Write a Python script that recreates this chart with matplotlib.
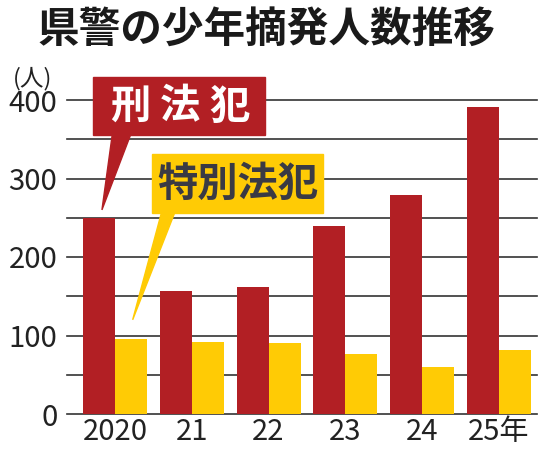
import numpy as np
import matplotlib
matplotlib.use("Agg")
import matplotlib.pyplot as plt
from matplotlib.patches import Rectangle, Polygon

plt.rcParams['font.family'] = ['Noto Sans CJK JP', 'DejaVu Sans']

# === Daten ===
years = ["2020", "21", "22", "23", "24", "25年"]
keiho = [250, 157, 162, 240, 279, 391]      # 刑法犯
tokubetsu = [96, 92, 90, 77, 60, 82]        # 特別法犯

RED = "#b21f24"
YELLOW = "#ffcb05"
GRID = "#333333"

W, H = 545, 449
fig = plt.figure(figsize=(W / 100, H / 100), dpi=100)
ax = fig.add_axes([67 / W, (H - 414) / H, 470 / W, 314 / H])

x = np.arange(len(years))
w = 0.417
ax.bar(x - w / 2, keiho, w, color=RED, zorder=3)
ax.bar(x + w / 2, tokubetsu, w, color=YELLOW, zorder=3)

ax.set_xlim(-0.625, 5.495)
ax.set_ylim(0, 400)
for yv in range(0, 401, 50):
    ax.axhline(yv, color=GRID, lw=1.2, zorder=1, clip_on=False)

ax.set_yticks(range(0, 401, 100))
ax.set_xticks(x)
ax.set_xticklabels(years)
ax.tick_params(axis='both', length=0, labelsize=21, colors="#222222")
ax.tick_params(axis='y', pad=7)
ax.tick_params(axis='x', pad=2)
for s in ax.spines.values():
    s.set_visible(False)

# === Titel ===
fig.text(266 / W, 1 - 30 / H, "県警の少年摘発人数推移", ha='center', va='center',
         fontsize=30, fontweight='bold', color="#1a1a1a")
fig.text(33 / W, 1 - 79 / H, "(人)", ha='center', va='center',
         fontsize=17, color="#222222")

# === Beschriftungen mit Zeiger ===
# 刑法犯
ax.add_patch(Polygon([(-0.03, 360), (0.22, 360), (-0.17, 260)],
                     closed=True, color=RED, zorder=5, clip_on=False))
ax.add_patch(Rectangle((-0.286, 355), 2.24, 74, color=RED, zorder=5,
                       clip_on=False))
for i, ch in enumerate("刑法犯"):
    ax.text(0.2 + i * 0.645, 391, ch, ha='center', va='center', fontsize=29,
            fontweight='bold', color="white", zorder=6)

# 特別法犯
ax.add_patch(Polygon([(0.62, 262), (0.80, 262), (0.23, 120)],
                     closed=True, color=YELLOW, zorder=5, clip_on=False))
ax.add_patch(Rectangle((0.48, 256), 2.23, 75, color=YELLOW, zorder=5,
                       clip_on=False))
ax.text(1.595, 292, "特別法犯", ha='center', va='center', fontsize=29,
        fontweight='bold', color="#3a3a44", zorder=6)

plt.savefig("out.png", dpi=100)
